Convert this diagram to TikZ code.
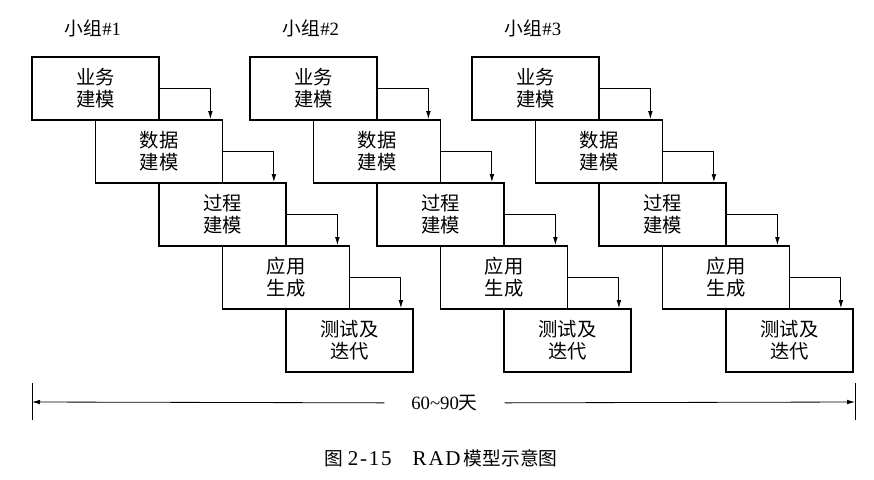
\documentclass[tikz,border=0pt]{standalone}
\usepackage{fontspec}
\setmainfont{Liberation Serif}
\newfontfamily\cjk{Noto Sans CJK SC}
\newfontfamily\capfont[LetterSpace=8]{Liberation Serif}
\usetikzlibrary{arrows.meta}

\begin{document}
\begin{tikzpicture}[x=0.03cm,y=-0.03cm,>={Latex[length=2.4mm,width=1.4mm]},
  every node/.style={font=\fontsize{16}{19}\selectfont},
  box/.style={draw,line width=1.5pt,minimum width=3.81cm,minimum height=1.89cm,
    inner sep=0pt,align=center,font=\cjk\fontsize{16.5}{18.8}\selectfont}]
\useasboundingbox (0,0) rectangle (874,480);
\foreach \g/\x in {1/32, 2/250, 3/472}{
  \node (team\g) at (\x+61,28) {{\cjk 小组}\#\g};
  \foreach \i/\t in {0/{业务\\建模}, 1/{数据\\建模}, 2/{过程\\建模}, 3/{应用\\生成}, 4/{测试及\\迭代}}
    \node[box] (b\g\i) at (\x+63.5+63.5*\i, 88.5+63*\i) {\t};
  \foreach \i [count=\j from 1] in {0,...,3}
    \draw[->,line width=0.7pt] (b\g\i.east) -| ([xshift=-0.39cm]b\g\j.north east);
}
% 60~90 days
\coordinate (tl) at (32,402);
\coordinate (tr) at (855,402);
\draw[line width=0.7pt] (tl) ++(0,-19) -- ++(0,37);
\draw[line width=0.7pt] (tr) ++(0,-19) -- ++(0,37);
\node[inner xsep=0.8cm] (span) at (444.5,403) {60\textasciitilde 90{\cjk 天}};
\draw[->,line width=0.7pt] (span) -- (tl);
\draw[->,line width=0.7pt] (span) -- (tr);
\node (cap) at (441,458) {{\cjk 图}\ {\capfont\fontsize{18}{19}\selectfont 2-15\quad RAD}\,{\cjk 模型示意图}};
\end{tikzpicture}
\end{document}
